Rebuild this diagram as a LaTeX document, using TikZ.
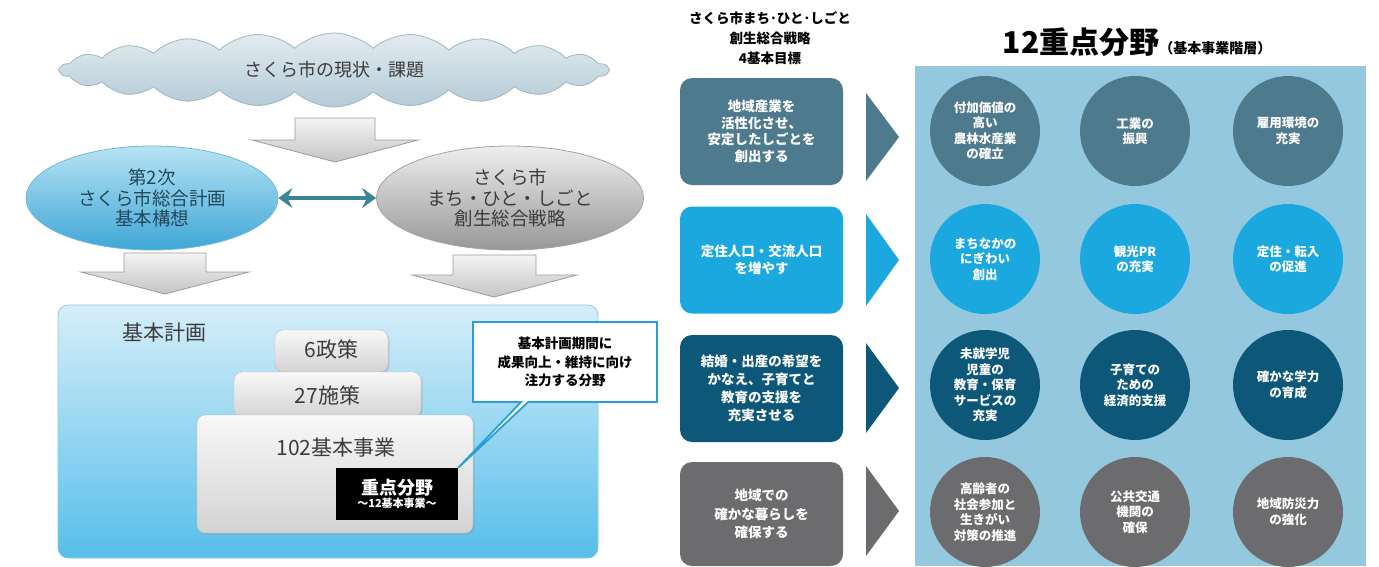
\documentclass[tikz,border=0pt]{standalone}
\usepackage{fontspec}
\setmainfont{Noto Sans CJK JP}
\usetikzlibrary{shapes.symbols,shapes.geometric,shapes.callouts,arrows.meta,shadows}
\definecolor{cSlate}{HTML}{4E7A8E}
\definecolor{cCyan}{HTML}{1BA8DF}
\definecolor{cDeep}{HTML}{0D5878}
\definecolor{cGrey}{HTML}{6C6C6E}
\definecolor{cPanel}{HTML}{93C8DE}
\definecolor{cloudT}{HTML}{E2ECF1}
\definecolor{cloudBot}{HTML}{B4CAD6}
\definecolor{cloudB}{HTML}{9FB6C3}
\definecolor{leT}{HTML}{B8E3F5}
\definecolor{leBot}{HTML}{3EA6D5}
\definecolor{leB}{HTML}{6DB8D9}
\definecolor{leTxt}{HTML}{23475A}
\definecolor{reT}{HTML}{EEEEEE}
\definecolor{reBot}{HTML}{979797}
\definecolor{reB}{HTML}{A3A3A3}
\definecolor{arrT}{HTML}{F4F4F4}
\definecolor{arrBot}{HTML}{C4C4C4}
\definecolor{arrB}{HTML}{9C9C9C}
\definecolor{kkT}{HTML}{D6EEF9}
\definecolor{kkBot}{HTML}{56BEEA}
\definecolor{kkB}{HTML}{8CCBE7}
\definecolor{stT}{HTML}{F8F8F8}
\definecolor{stBot}{HTML}{D3D3D3}
\definecolor{stB}{HTML}{BDBDBD}
\definecolor{dblC}{HTML}{3B8597}
\definecolor{callB}{HTML}{2A9FD3}
\definecolor{txtD}{HTML}{3C3C3C}
\tikzset{
  blockarrow/.style={draw=arrB, line width=0.8pt, top color=arrT, bottom color=arrBot},
  stairbox/.style={draw=stB, rounded corners=8, top color=stT, bottom color=stBot, inner sep=0,
    drop shadow={opacity=0.25, shadow xshift=1.5pt, shadow yshift=-1.5pt}},
  stairtxt/.style={text=txtD, font=\fontsize{21}{24}\selectfont, inner sep=0},
  goalbox/.style={rounded corners=12, minimum width=163, minimum height=107, inner sep=0,
    align=center, text=white, font=\bfseries\fontsize{13.5}{16.5}\selectfont},
  areacirc/.style={circle, minimum size=110, inner sep=0, align=center, text=white,
    font=\bfseries\fontsize{12.5}{15.5}\selectfont},
}
\begin{document}
\begin{tikzpicture}[x=1pt,y=-1pt]
\useasboundingbox (0,0) rectangle (1379,566);
\fill[white] (0,0) rectangle (1379,566);

% ---------- left part ----------
\node[cloud, cloud puffs=22, cloud puff arc=85, aspect=7, minimum width=548, minimum height=74,
  draw=cloudB, line width=0.8pt, top color=cloudT, bottom color=cloudBot, text=txtD,
  font=\fontsize{18}{20}\selectfont] (cl) at (334,70) {さくら市の現状・課題};

\path[blockarrow] (295,118)--(375,118)--(375,140)--(418,140)--(335,162)--(252,140)--(295,140)--cycle;

\node[ellipse, minimum width=252, minimum height=104, draw=leB, line width=0.8pt,
  top color=leT, bottom color=leBot, text=leTxt, align=center,
  font=\fontsize{18.5}{20.5}\selectfont] (le) at (152,198) {第2次\\さくら市総合計画\\基本構想};
\node[ellipse, minimum width=267, minimum height=104, draw=reB, line width=0.8pt,
  top color=reT, bottom color=reBot, text=txtD, align=center,
  font=\fontsize{18.5}{20.5}\selectfont] (re) at (510,198) {さくら市\\まち・ひと・しごと\\創生総合戦略};
\draw[dblC, line width=4pt, {Stealth[length=14pt,width=20pt,inset=5pt]}-{Stealth[length=14pt,width=20pt,inset=5pt]}]
  (le.east) -- (re.west);

\path[blockarrow] (124,253)--(206,253)--(206,272)--(249,272)--(165,294)--(81,272)--(124,272)--cycle;
\path[blockarrow] (453,255)--(536,255)--(536,275)--(577,275)--(494,297)--(412,275)--(453,275)--cycle;

\node[draw=kkB, line width=0.8pt, rounded corners=10, top color=kkT, bottom color=kkBot,
  minimum width=540, minimum height=253, inner sep=0] (kk) at (328,431.5) {};
\node[text=txtD, font=\fontsize{21}{24}\selectfont, inner sep=0] (kklab) at (164,333) {基本計画};

\node[stairbox, minimum width=113, minimum height=42] (p6) at (331.5,351) {};
\node[stairtxt] (p6t) at (331.5,349) {6政策};
\node[stairbox, minimum width=187, minimum height=45] (p27) at (327.5,394.5) {};
\node[stairtxt] (p27t) at (327.5,395) {27施策};
\node[stairbox, minimum width=276, minimum height=118] (p102) at (335,474) {};
\node[stairtxt] (p102t) at (336,448) {102基本事業};

\node[fill=black, minimum width=122, minimum height=52, inner sep=0, text=white, align=center]
  (jb) at (397,494) {{\bfseries\fontsize{18}{20}\selectfont 重点分野}\\[1pt]{\bfseries\fontsize{11}{13}\selectfont ～12基本事業～}};

\node[rectangle callout, callout absolute pointer={(jb.north east)}, draw=callB, line width=1.8pt,
  fill=white, minimum width=184, minimum height=80, inner sep=0, align=center, text=black,
  font=\bfseries\fontsize{13.5}{18.5}\selectfont] (co) at (565,362)
  {基本計画期間に\\成果向上・維持に向け\\注力する分野};

% ---------- middle part ----------
\node[align=center, text=black, font=\bfseries\fontsize{13.5}{20}\selectfont, inner sep=0] (hdr) at (770,38)
  {さくら市まち･ひと･しごと\\創生総合戦略\\4基本目標};

\node[goalbox, fill=cSlate] (g1) at (761.5,131.5) {地域産業を\\活性化させ、\\安定したしごとを\\創出する};
\node[goalbox, fill=cCyan] (g2) at (761.5,260) {定住人口・交流人口\\を増やす};
\node[goalbox, fill=cDeep, font=\bfseries\fontsize{13.5}{18}\selectfont] (g3) at (761.5,388.5) {結婚・出産の希望を\\かなえ、子育てと\\教育の支援を\\充実させる};
\node[goalbox, fill=cGrey, minimum height=104, font=\bfseries\fontsize{13.5}{18.5}\selectfont] (g4) at (761.5,514) {地域での\\確かな暮らしを\\確保する};

\fill[cSlate] (866,93) -- (899,137) -- (866,181) -- cycle;
\fill[cCyan] (866,214) -- (899,260) -- (866,306) -- cycle;
\fill[cDeep] (866,343) -- (899,388) -- (866,433) -- cycle;
\fill[cGrey] (866,466) -- (899,511) -- (866,556) -- cycle;

% ---------- right part ----------
\node[anchor=base, inner sep=0, text=black] (ttl) at (1137,53)
  {{\bfseries\fontsize{30}{32}\selectfont 12重点分野}{\bfseries\fontsize{14}{16}\selectfont （基本事業階層）}};
\node[fill=cPanel, minimum width=451, minimum height=500, inner sep=0, anchor=north west] (panel) at (915,66) {};

\node[areacirc, fill=cSlate] (a11) at (985,131) {付加価値の\\高い\\農林水産業\\の確立};
\node[areacirc, fill=cSlate] (a12) at (1135,131) {工業の\\振興};
\node[areacirc, fill=cSlate] (a13) at (1288,131) {雇用環境の\\充実};
\node[areacirc, fill=cCyan] (a21) at (985,259) {まちなかの\\にぎわい\\創出};
\node[areacirc, fill=cCyan] (a22) at (1135,259) {観光PR\\の充実};
\node[areacirc, fill=cCyan] (a23) at (1288,259) {定住・転入\\の促進};
\node[areacirc, fill=cDeep] (a31) at (985,385) {未就学児\\児童の\\教育・保育\\サービスの\\充実};
\node[areacirc, fill=cDeep] (a32) at (1135,385) {子育ての\\ための\\経済的支援};
\node[areacirc, fill=cDeep] (a33) at (1288,385) {確かな学力\\の育成};
\node[areacirc, fill=cGrey] (a41) at (985,512) {高齢者の\\社会参加と\\生きがい\\対策の推進};
\node[areacirc, fill=cGrey] (a42) at (1135,512) {公共交通\\機関の\\確保};
\node[areacirc, fill=cGrey] (a43) at (1288,512) {地域防災力\\の強化};
\end{tikzpicture}
\end{document}
